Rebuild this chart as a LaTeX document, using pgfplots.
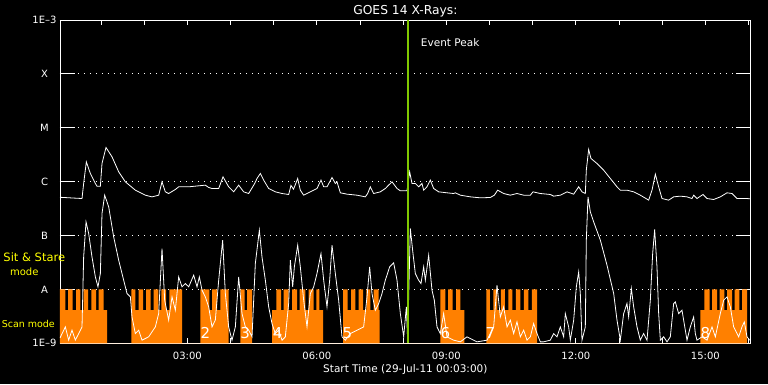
\documentclass[border=0pt]{standalone}
\usepackage{fontspec}
\setmainfont{DejaVu Sans}
\usepackage{pgfplots}
\pgfplotsset{compat=1.18}
\definecolor{orng}{RGB}{255,128,0}
\definecolor{evt}{RGB}{128,200,0}
\definecolor{ylw}{RGB}{255,255,0}
\begin{document}
\begin{tikzpicture}
\fill[black] (-60pt,-40.7pt) rectangle (708pt,343.3pt);
\path[use as bounding box] (-60pt,-40.7pt) rectangle (708pt,343.3pt);
\begin{axis}[
  scale only axis, width=690.7pt, height=323.3pt,
  xmin=0.05, xmax=16.05, ymin=-9, ymax=-3,
  axis line style={white, line width=0.8pt},
  xtick={3,6,9,12,15}, xticklabels={03:00,06:00,09:00,12:00,15:00},
  minor xtick={1,2,4,5,7,8,10,11,13,14,16},
  xtick style={white, line width=0.8pt, /pgfplots/major tick length=5pt, /pgfplots/minor tick length=5pt},
  ytick={-9,-8,-7,-6,-5,-4,-3}, yticklabels={1E--9,A,B,C,M,X,1E--3},
  ytick style={white, line width=0.8pt, /pgfplots/major tick length=15pt},
  tick align=inside,
  ymajorgrids, grid style={white, dash pattern=on 0.8pt off 5.2pt, line width=0.8pt},
  ticklabel style={text=white, font=\fontsize{10}{12}\selectfont},
  yticklabel style={anchor=center, xshift=-15.5pt},
  xticklabel style={anchor=base, yshift=-15.7pt},
  xlabel={Start Time (29-Jul-11 00:03:00)},
  every axis x label/.style={at={(0.5,0)}, anchor=base, yshift=-28.7pt, text=white, font=\fontsize{10.5}{12}\selectfont},
  title={GOES 14 X-Rays:},
  every axis title/.style={at={(0.5,1)}, anchor=base, yshift=6pt, text=white, font=\fontsize{12.3}{14}\selectfont},
]
% instrument mode (orange): -8 = sit & stare teeth top, -8.382 = scan mode top, -9 = none
\addplot[const plot, fill=orng, draw=none] coordinates {
(0.05,-9) (0.05,-8) (0.174,-8.382) (0.236,-8) (0.343,-8.382) (0.422,-8) (0.521,-8.382) (0.598,-8)
(0.700,-8.382) (0.776,-8) (0.885,-8.382) (0.945,-8) (1.061,-8.382) (1.140,-9)
(1.703,-8) (1.795,-8.382) (1.872,-8) (1.974,-8.382) (2.043,-8) (2.150,-8.382) (2.219,-8)
(2.328,-8.382) (2.398,-8) (2.506,-8.382) (2.583,-8) (2.877,-9)
(3.301,-8) (3.510,-8.382) (3.572,-8) (3.688,-8.382) (3.765,-8) (3.957,-9)
(4.227,-8) (4.327,-8.382) (4.383,-8) (4.499,-9)
(4.962,-8.382) (5.061,-8) (5.170,-8.382) (5.231,-8) (5.346,-8.382) (5.425,-8) (5.541,-8.382)
(5.601,-8) (5.733,-8.382) (5.810,-8) (5.925,-8.382) (5.988,-8) (6.057,-8.382) (6.143,-9)
(6.606,-8) (6.713,-8.382) (6.792,-8) (6.891,-8.382) (6.968,-8) (7.070,-8.382) (7.146,-8)
(7.239,-8.382) (7.315,-8) (7.431,-8.382) (7.454,-9)
(8.860,-8) (8.976,-8.382) (9.038,-8) (9.145,-8.382) (9.224,-8) (9.323,-8.382) (9.416,-9)
(9.926,-8) (10.007,-8.382) (10.088,-8) (10.181,-8.382) (10.262,-8) (10.355,-8.382) (10.436,-8)
(10.528,-8.382) (10.609,-8) (10.714,-8.382) (10.795,-8) (10.899,-8.382) (10.980,-8) (11.100,-9)
(14.883,-8.382) (14.976,-8) (15.098,-8.382) (15.154,-8) (15.270,-8.382) (15.330,-8) (15.439,-8.382)
(15.502,-8) (15.617,-8.382) (15.677,-8) (15.786,-8.382) (15.849,-8) (15.965,-9) (16.05,-9)
};
% block numbers
\node[text=white, font=\fontsize{15}{15}\selectfont] at (axis cs:3.42,-8.81) {2};
\node[text=white, font=\fontsize{15}{15}\selectfont] at (axis cs:4.34,-8.81) {3};
\node[text=white, font=\fontsize{15}{15}\selectfont] at (axis cs:5.09,-8.81) {4};
\node[text=white, font=\fontsize{15}{15}\selectfont] at (axis cs:6.71,-8.81) {5};
\node[text=white, font=\fontsize{15}{15}\selectfont] at (axis cs:8.98,-8.81) {6};
\node[text=white, font=\fontsize{15}{15}\selectfont] at (axis cs:10.02,-8.81) {7};
\node[text=white, font=\fontsize{15}{15}\selectfont] at (axis cs:15.00,-8.81) {8};
% long channel (1-8 A), log10 W/m^2
\addplot[white, line width=0.8pt, mark=none] coordinates {
(0.05,-6.29) (0.560,-6.313) (0.598,-6.034) (0.660,-5.632) (0.753,-5.848) (0.869,-6.034) (0.907,-6.084)
(0.985,-6.084) (1.023,-5.663) (1.116,-5.366) (1.255,-5.539) (1.409,-5.817) (1.564,-6.003) (1.795,-6.158)
(2.027,-6.251) (2.181,-6.282) (2.336,-6.251) (2.413,-6.003) (2.490,-6.189) (2.567,-6.220) (2.722,-6.145)
(2.799,-6.096) (3.031,-6.096) (3.262,-6.077) (3.417,-6.065) (3.494,-6.108) (3.571,-6.127) (3.726,-6.127)
(3.826,-5.910) (3.957,-6.096) (4.073,-6.189) (4.189,-6.065) (4.305,-6.189) (4.421,-6.220) (4.560,-6.034)
(4.614,-5.941) (4.691,-5.848) (4.768,-5.972) (4.884,-6.127) (5.038,-6.189) (5.193,-6.220) (5.347,-6.238)
(5.400,-6.070) (5.460,-6.140) (5.556,-5.941) (5.617,-6.158) (5.695,-6.251) (5.849,-6.189) (6.003,-6.127)
(6.096,-5.972) (6.158,-6.096) (6.235,-6.096) (6.351,-5.923) (6.428,-6.034) (6.467,-6.003) (6.544,-6.207)
(6.698,-6.232) (6.930,-6.251) (7.123,-6.282) (7.177,-6.220) (7.239,-6.096) (7.316,-6.220) (7.470,-6.189)
(7.586,-6.127) (7.663,-6.065) (7.741,-6.003) (7.857,-6.127) (7.934,-6.170) (8.088,-6.170) (8.150,-5.817)
(8.204,-6.034) (8.281,-6.034) (8.358,-6.096) (8.436,-6.034) (8.474,-6.158) (8.551,-6.096) (8.629,-5.972)
(8.706,-6.127) (8.822,-6.189) (9.015,-6.207) (9.169,-6.220) (9.208,-6.207) (9.324,-6.251) (9.555,-6.282)
(9.787,-6.300) (10.018,-6.294) (10.111,-6.251) (10.188,-6.158) (10.327,-6.220) (10.482,-6.251)
(10.636,-6.220) (10.791,-6.251) (10.945,-6.251) (11.007,-6.189) (11.177,-6.220) (11.408,-6.238)
(11.486,-6.269) (11.640,-6.251) (11.795,-6.189) (11.949,-6.232) (12.065,-6.096) (12.142,-6.189)
(12.219,-6.220) (12.242,-5.787) (12.296,-5.403) (12.350,-5.570) (12.489,-5.663) (12.644,-5.787)
(12.798,-5.941) (12.953,-6.096) (13.030,-6.158) (13.184,-6.158) (13.339,-6.189) (13.493,-6.251)
(13.686,-6.343) (13.764,-6.158) (13.841,-5.861) (13.918,-6.096) (13.995,-6.313) (14.150,-6.343)
(14.265,-6.282) (14.420,-6.269) (14.574,-6.282) (14.690,-6.313) (14.728,-6.251) (14.806,-6.313)
(14.945,-6.238) (15.038,-6.313) (15.192,-6.331) (15.346,-6.282) (15.501,-6.207) (15.617,-6.220)
(15.732,-6.313) (15.964,-6.313) (16.05,-6.320)
};
% short channel (0.5-4 A), log10 W/m^2
\addplot[white, line width=0.8pt, mark=none] coordinates {
(0.05,-8.90) (0.174,-8.695) (0.251,-8.942) (0.328,-8.757) (0.405,-8.942) (0.483,-8.819) (0.560,-8.695)
(0.598,-7.396) (0.653,-6.746) (0.714,-6.962) (0.791,-7.396) (0.869,-7.767) (0.930,-7.952) (0.985,-7.705)
(1.023,-6.591) (1.085,-6.251) (1.178,-6.467) (1.293,-7.024) (1.409,-7.457) (1.525,-7.829) (1.602,-8.076)
(1.680,-8.138) (1.718,-8.510) (1.795,-8.819) (1.872,-8.757) (1.950,-8.942) (2.104,-8.880) (2.259,-8.695)
(2.336,-8.448) (2.413,-7.241) (2.475,-8.200) (2.567,-8.571) (2.645,-8.138) (2.722,-8.386) (2.799,-7.767)
(2.876,-7.952) (2.953,-7.891) (3.031,-7.952) (3.147,-7.736) (3.224,-7.952) (3.278,-7.767) (3.340,-8.014)
(3.417,-8.138) (3.494,-8.324) (3.571,-8.695) (3.648,-8.571) (3.726,-7.829) (3.818,-7.086) (3.880,-8.076)
(3.957,-8.695) (4.034,-8.942) (4.112,-8.695) (4.189,-7.767) (4.266,-8.448) (4.343,-8.695) (4.421,-8.757)
(4.498,-8.880) (4.575,-7.519) (4.668,-6.900) (4.729,-7.396) (4.807,-7.829) (4.884,-8.324) (4.961,-8.633)
(5.038,-8.819) (5.116,-8.757) (5.193,-8.942) (5.270,-8.880) (5.347,-8.262) (5.386,-7.457) (5.440,-7.952)
(5.479,-7.581) (5.556,-7.179) (5.617,-7.581) (5.695,-8.200) (5.772,-8.695) (5.849,-8.076) (5.926,-7.952)
(6.003,-7.705) (6.096,-7.334) (6.158,-7.829) (6.235,-8.324) (6.297,-7.829) (6.351,-7.179) (6.428,-7.705)
(6.505,-8.200) (6.582,-8.880) (6.660,-8.942) (6.776,-8.819) (6.930,-8.757) (7.084,-8.695) (7.162,-8.138)
(7.223,-7.581) (7.277,-8.076) (7.355,-8.386) (7.432,-8.262) (7.509,-8.076) (7.586,-7.829) (7.687,-7.581)
(7.779,-7.507) (7.857,-7.829) (7.934,-8.448) (8.011,-8.880) (8.073,-8.324) (8.103,-8.942) (8.165,-6.869)
(8.227,-7.334) (8.281,-7.705) (8.358,-7.829) (8.412,-7.891) (8.474,-7.581) (8.513,-7.829) (8.590,-7.365)
(8.667,-8.014) (8.721,-8.200) (8.783,-8.695) (8.860,-8.819) (8.937,-8.448) (9.015,-8.880) (9.169,-8.942)
(9.324,-8.973) (9.478,-8.880) (9.710,-8.973) (9.941,-8.942) (10.096,-8.695) (10.173,-7.921) (10.250,-8.510)
(10.327,-8.324) (10.405,-8.695) (10.482,-8.571) (10.559,-8.819) (10.636,-8.602) (10.713,-8.880)
(10.791,-8.757) (10.868,-8.942) (10.945,-8.880) (11.022,-8.633) (11.100,-8.819) (11.177,-8.973)
(11.254,-8.973) (11.408,-8.942) (11.486,-8.819) (11.563,-8.880) (11.640,-8.695) (11.717,-8.880)
(11.756,-8.448) (11.833,-8.695) (11.872,-8.942) (11.949,-8.571) (12.011,-7.952) (12.065,-7.674)
(12.103,-8.076) (12.142,-8.942) (12.219,-8.695) (12.242,-7.086) (12.281,-6.282) (12.335,-6.560)
(12.412,-6.746) (12.567,-7.086) (12.721,-7.550) (12.876,-8.076) (12.953,-8.571) (13.030,-8.942)
(13.107,-8.448) (13.184,-8.262) (13.223,-8.510) (13.285,-7.983) (13.339,-8.324) (13.416,-8.695)
(13.493,-8.942) (13.570,-8.819) (13.648,-8.942) (13.725,-8.200) (13.779,-7.334) (13.825,-6.888)
(13.879,-7.581) (13.918,-8.448) (13.957,-8.942) (14.034,-8.880) (14.111,-8.973) (14.188,-8.880)
(14.265,-8.262) (14.304,-8.231) (14.381,-8.448) (14.458,-8.386) (14.497,-8.571) (14.574,-8.942)
(14.651,-8.695) (14.728,-8.510) (14.767,-8.819) (14.806,-8.942) (14.922,-8.880) (15.038,-8.942)
(15.154,-8.695) (15.231,-8.880) (15.346,-8.448) (15.424,-8.200) (15.501,-8.138) (15.578,-8.324)
(15.655,-8.695) (15.771,-8.880) (15.848,-8.695) (15.902,-8.602) (15.964,-8.880) (16.026,-8.942)
};
% event peak
\addplot[evt, line width=2pt, mark=none] coordinates {(8.111,-9) (8.111,-3)};
\node[text=white, anchor=west, font=\fontsize{10.5}{12}\selectfont] at (axis cs:8.33,-3.417) {Event Peak};
\end{axis}
\node[text=ylw, anchor=base, font=\fontsize{11.5}{12}\selectfont] at (-25.7pt,81.6pt) {Sit \& Stare};
\node[text=ylw, anchor=base, font=\fontsize{10}{12}\selectfont] at (-35.7pt,68.3pt) {mode};
\node[text=ylw, anchor=base, font=\fontsize{9.5}{12}\selectfont] at (-31.7pt,15.6pt) {Scan mode};
\end{tikzpicture}
\end{document}
